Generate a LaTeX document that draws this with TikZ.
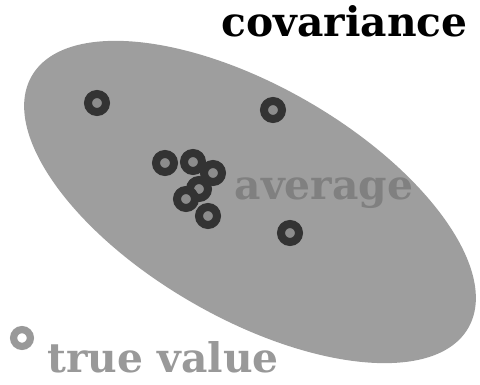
\documentclass[tikz,border=0pt]{standalone}
\usepackage{fontspec}
\newfontfamily\slabfont{DejaVu Serif}

\tikzset{
    sample/.style={circle, draw=black!80, fill=black!45, line width=0.2cm,
        minimum size=0.45cm, inner sep=0pt},
    truth/.style={circle, draw=black!40, fill=white, line width=0.18cm,
        minimum size=0.42cm, inner sep=0pt},
    label/.style={font=\slabfont\bfseries\fontsize{29}{31}\selectfont, inner sep=0pt}
}

\begin{document}
\begin{tikzpicture}[x=0.025cm, y=0.025cm]
        % рамка картинки
        \useasboundingbox (0,0) rectangle (480,385);

        % Эллипс ковариации
        \fill[black!38, rotate around={-30:(250,183)}] (250,183) ellipse (252 and 116);

        % Измерения (строка за строкой сверху вниз)
        \node[sample] (s1) at (97, 282) {}; \node[sample] (s2) at (273, 275) {};
        \node[sample] (s3) at (165, 222) {}; \node[sample] (s4) at (193, 223) {}; \node[sample] (s5) at (213, 212) {};
        \node[sample] (s6) at (199, 196) {}; \node[sample] (s7) at (186, 186) {};
        \node[sample] (s8) at (208, 169) {}; \node[sample] (s9) at (290, 152) {};

        % Подписи
        \node[label, black, anchor=north east] (cov) at (468, 380) {covariance};
        \node[label, black!50] (avg) at (324, 192) {average};

        % Истинное значение
        \node[truth] (tv) at (22, 47) {};
        \node[label, black!40, anchor=south west] (tvl) at (47, 12) {true value};
\end{tikzpicture}
\end{document}
